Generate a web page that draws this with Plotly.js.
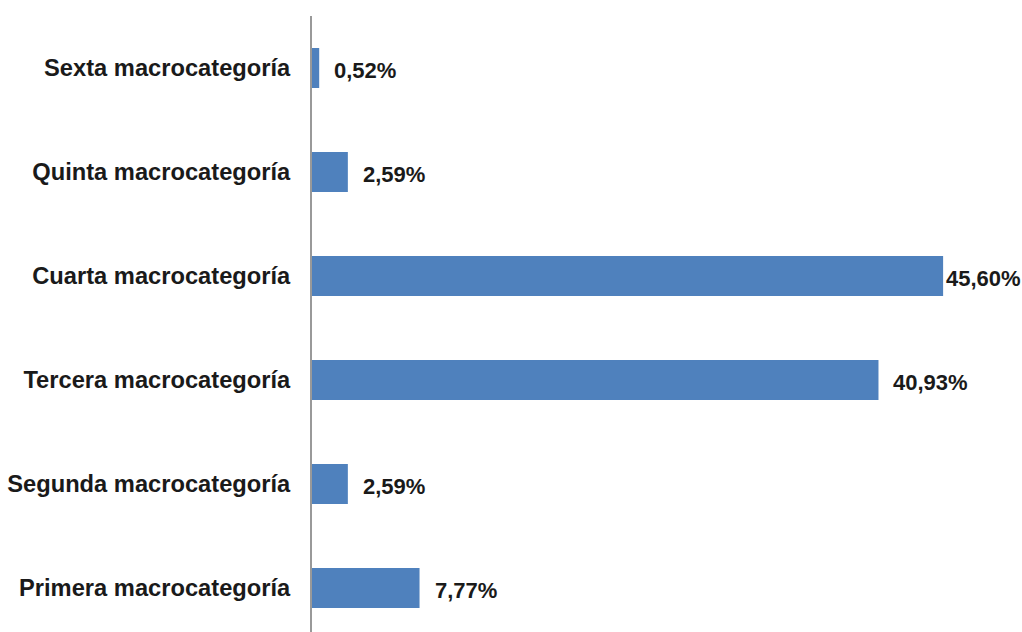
<!DOCTYPE html>
<html>
<head>
<meta charset="utf-8">
<script src="https://cdn.plot.ly/plotly-3.0.1.min.js"></script>
<style>html,body{margin:0;padding:0;background:#fff;}#chart{width:1022px;height:632px;}</style>
</head>
<body>
<div id="chart"></div>
<script>
const categories = ["Primera macrocategoría","Segunda macrocategoría","Tercera macrocategoría","Cuarta macrocategoría","Quinta macrocategoría","Sexta macrocategoría"];
const values = [7.77, 2.59, 40.93, 45.60, 2.59, 0.52];
const labels = ["7,77%","2,59%","40,93%","45,60%","2,59%","0,52%"];

const maxV = Math.max(...values);
const catFont = {family: "Liberation Sans, Arial, sans-serif", size: 23.7, color: "#1a1a1a", weight: "bold"};
const valFont = {family: "Liberation Sans, Arial, sans-serif", size: 22, color: "#1a1a1a", weight: "bold"};

const annotations = values.map((v, i) => ({
  x: v, y: categories[i], xref: "x", yref: "y",
  text: "<b>" + labels[i] + "</b>", showarrow: false,
  xanchor: "left", yanchor: "middle",
  xshift: v === maxV ? 1 : 13, yshift: -2,
  font: valFont
}));

const trace = {
  type: "bar", orientation: "h",
  x: values, y: categories,
  marker: {color: "#4F81BD"},
  hoverinfo: "none"
};

const layout = {
  width: 1022, height: 632,
  margin: {l: 312, r: 0, t: 16, b: 0, pad: 0},
  paper_bgcolor: "#fff", plot_bgcolor: "#fff",
  bargap: 0.615,
  showlegend: false,
  xaxis: {range: [0, 51.3], visible: false, fixedrange: true},
  yaxis: {
    type: "category", range: [-0.423, 5.5],
    showline: true, linecolor: "#999999", linewidth: 2,
    showgrid: false, zeroline: false, ticks: "",
    ticklabelstandoff: 15,
    tickfont: catFont
  },
  annotations: annotations
};

Plotly.newPlot("chart", [trace], layout, {staticPlot: true, displayModeBar: false});
</script>
</body>
</html>
